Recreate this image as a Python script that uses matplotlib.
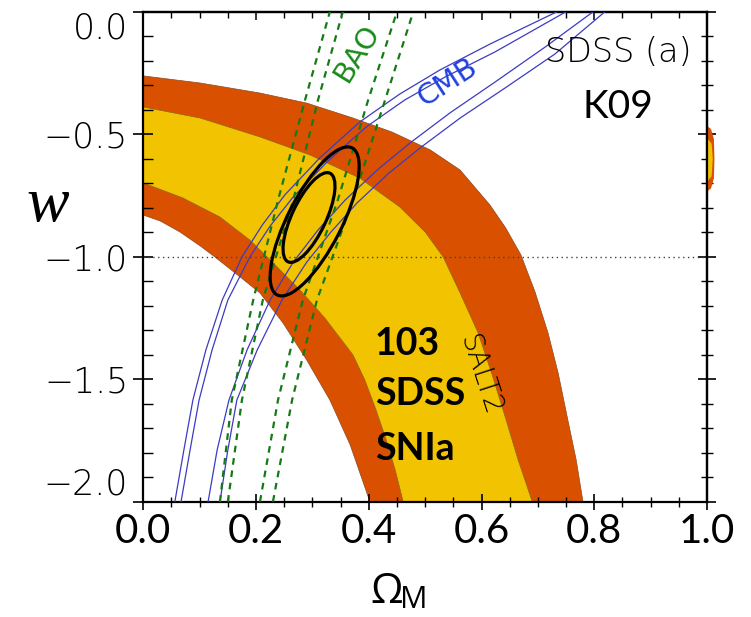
import matplotlib
matplotlib.use("Agg")
import matplotlib.pyplot as plt
from matplotlib.ticker import MultipleLocator
from matplotlib.patches import Ellipse
from matplotlib.transforms import ScaledTranslation

# SN Ia band edges (Omega_M, w)
sn2_upper_om = [0.0, 0.101, 0.207, 0.290, 0.372, 0.441, 0.509, 0.562, 0.615, 0.643, 0.670,
                0.695, 0.718, 0.736, 0.752, 0.768, 0.780]
sn2_upper_w = [-0.262, -0.291, -0.332, -0.373, -0.434, -0.491, -0.564, -0.646, -0.789, -0.883,
               -0.993, -1.144, -1.311, -1.475, -1.654, -1.830, -2.0]
sn2_lower_om = [0.0, 0.030, 0.065, 0.101, 0.127, 0.172, 0.207, 0.248, 0.290, 0.331, 0.367, 0.402]
sn2_lower_w = [-0.830, -0.854, -0.899, -0.956, -1.001, -1.083, -1.148, -1.271, -1.422, -1.585,
               -1.768, -2.0]
sn1_upper_om = [0.0, 0.101, 0.207, 0.296, 0.384, 0.455, 0.500, 0.532, 0.562, 0.594, 0.619,
                0.642, 0.665, 0.690]
sn1_upper_w = [-0.389, -0.434, -0.511, -0.585, -0.679, -0.797, -0.899, -1.001, -1.148, -1.311,
               -1.483, -1.654, -1.830, -2.0]
sn1_lower_om = [0.0, 0.070, 0.136, 0.189, 0.225, 0.278, 0.322, 0.372, 0.393, 0.413, 0.431,
                0.447, 0.461]
sn1_lower_w = [-0.699, -0.760, -0.838, -0.932, -1.013, -1.136, -1.250, -1.401, -1.503, -1.626,
               -1.748, -1.871, -2.0]

# piece of the band that wraps round past Omega_M = 1
wrap2_om = [1.0, 1.006, 1.011, 1.012, 1.011, 1.006, 1.0]
wrap2_w = [-0.47, -0.48, -0.52, -0.60, -0.68, -0.72, -0.73]
wrap1_om = [1.0, 1.007, 1.009, 1.007, 1.0]
wrap1_w = [-0.52, -0.54, -0.60, -0.67, -0.69]

# CMB contour lines
cmb1_om = [0.056, 0.072, 0.088, 0.111, 0.140, 0.175, 0.211, 0.251, 0.313, 0.384, 0.455, 0.526,
           0.615, 0.734]
cmb1_w = [-2.0, -1.789, -1.585, -1.381, -1.177, -1.001, -0.871, -0.748, -0.597, -0.450, -0.336,
          -0.238, -0.132, 0.0]
cmb2_om = [0.067, 0.083, 0.099, 0.122, 0.150, 0.189, 0.225, 0.266, 0.326, 0.395, 0.464, 0.535,
           0.624, 0.750]
cmb2_w = [-2.0, -1.789, -1.585, -1.381, -1.177, -1.001, -0.875, -0.756, -0.613, -0.471, -0.360,
          -0.267, -0.164, 0.0]
cmb3_om = [0.115, 0.131, 0.152, 0.184, 0.225, 0.266, 0.310, 0.358, 0.415, 0.473, 0.544, 0.624,
           0.713, 0.798]
cmb3_w = [-2.0, -1.789, -1.585, -1.381, -1.177, -1.022, -0.891, -0.769, -0.646, -0.536, -0.413,
          -0.287, -0.144, 0.0]
cmb4_om = [0.136, 0.150, 0.166, 0.202, 0.246, 0.290, 0.333, 0.379, 0.434, 0.491, 0.562, 0.642,
           0.730, 0.819]
cmb4_w = [-2.0, -1.789, -1.585, -1.381, -1.177, -1.022, -0.899, -0.781, -0.662, -0.556, -0.434,
          -0.311, -0.173, 0.0]

# BAO contour lines
bao_w = [-2.0, -1.585, -1.177, -0.769, -0.360, 0.0]
bao1_om = [0.136, 0.157, 0.195, 0.239, 0.287, 0.331]
bao2_om = [0.150, 0.175, 0.212, 0.266, 0.310, 0.354]
bao3_om = [0.207, 0.239, 0.283, 0.345, 0.399, 0.450]
bao4_om = [0.230, 0.264, 0.308, 0.372, 0.429, 0.479]

# combined constraint ellipses: centre (Omega_M, w), size in inches, tilt in degrees
ell_om = [0.304, 0.294]
ell_w = [-0.856, -0.840]
ell_major = [1.65, 0.98]
ell_minor = [0.54, 0.34]
ell_angle = [63.0, 64.7]

orange = "#d95100"
yellow = "#f2c300"

fig = plt.figure(figsize=(7.51, 6.17), dpi=100)
ax = fig.add_axes([0.1908, 0.1869, 0.7506, 0.7941])
ax.set_xlim(0, 1)
ax.set_ylim(-2, 0)

# 2-sigma band, then 1-sigma band on top
ax.fill(sn2_upper_om + sn2_lower_om[::-1], sn2_upper_w + sn2_lower_w[::-1],
        color=orange, ec="#8a4a20", lw=0.5, zorder=1)
ax.fill(sn1_upper_om + sn1_lower_om[::-1], sn1_upper_w + sn1_lower_w[::-1],
        color=yellow, ec="#8a6a20", lw=0.5, zorder=1.1)
ax.fill(wrap2_om, wrap2_w, color=orange, clip_on=False, zorder=1)
ax.fill(wrap1_om, wrap1_w, color=yellow, clip_on=False, zorder=1.1)

ax.axhline(-1.0, color="#444444", lw=1.0, ls=(0, (1, 2.5)), zorder=2)

for om, w in [(cmb1_om, cmb1_w), (cmb2_om, cmb2_w), (cmb3_om, cmb3_w), (cmb4_om, cmb4_w)]:
    ax.plot(om, w, color="#3b3bc4", lw=0.9, zorder=3)

for om in [bao1_om, bao2_om, bao3_om, bao4_om]:
    ax.plot(om, bao_w, color="#157a15", lw=1.6, ls=(0, (3, 2.6)), zorder=3)

for cx, cy, wd, ht, ang in zip(ell_om, ell_w, ell_major, ell_minor, ell_angle):
    tr = fig.dpi_scale_trans + ScaledTranslation(cx, cy, ax.transData)
    ax.add_patch(Ellipse((0, 0), wd, ht, angle=ang, transform=tr,
                         fill=False, ec="black", lw=2.3, zorder=4))

# labels inside the plot
ax.text(0.379, -0.170, "BAO", color="#1a8a1a", fontsize=21, rotation=58,
        ha="center", va="center", zorder=5)
ax.text(0.540, -0.290, "CMB", color="#1f3fe0", fontsize=21, rotation=33,
        ha="center", va="center", zorder=5)
ax.text(0.842, -0.165, "SDSS (a)", fontsize=24, ha="center", va="center",
        fontweight="light", zorder=5)
ax.text(0.842, -0.389, "K09", fontsize=28, family="Lato", ha="center",
        va="center", zorder=5)
for txt, y in zip(["103", "SDSS", "SNIa"], [-1.357, -1.561, -1.785]):
    ax.text(0.411, y, txt, fontsize=27, family="Lato", fontweight="bold",
            ha="left", va="center", zorder=5)
ax.text(0.597, -1.483, "SALT2", fontsize=20, rotation=-72, ha="center",
        va="center", fontweight="light", zorder=5)

# axes frame and ticks
for s in ax.spines.values():
    s.set_linewidth(1.6)
ax.xaxis.set_minor_locator(MultipleLocator(0.05))
ax.yaxis.set_minor_locator(MultipleLocator(0.1))
ax.tick_params(axis="x", which="major", direction="inout", length=11, width=1.2, pad=3)
ax.tick_params(axis="x", which="minor", direction="inout", length=7, width=1.0)
ax.tick_params(axis="y", which="major", direction="inout", length=14, width=1.2, pad=4)
ax.tick_params(axis="y", which="minor", direction="in", length=7, width=1.0)
ax.set_xticks([0, 0.2, 0.4, 0.6, 0.8, 1.0])
ax.set_xticklabels(["0.0", "0.2", "0.4", "0.6", "0.8", "1.0"], family="Lato", fontsize=29)
ax.set_yticks([0, -0.5, -1.0, -1.5, -2.0])
ax.set_yticklabels(["0.0", "\u22120.5", "\u22121.0", "\u22121.5", "\u22122.0"],
                   fontsize=25, fontweight="light")
ylabs = ax.get_yticklabels()
ylabs[0].set_va("top")
ylabs[-1].set_va("bottom")

top = ax.secondary_xaxis("top")
top.xaxis.set_major_locator(MultipleLocator(0.2))
top.xaxis.set_minor_locator(MultipleLocator(0.05))
top.tick_params(which="major", direction="in", length=5.8, width=1.1, labeltop=False)
top.tick_params(which="minor", direction="in", length=4.3, width=1.0)
top.spines["top"].set_linewidth(1.6)

right = ax.secondary_yaxis("right")
right.yaxis.set_major_locator(MultipleLocator(0.5))
right.yaxis.set_minor_locator(MultipleLocator(0.1))
right.tick_params(which="major", direction="inout", length=13, width=1.2, labelright=False)
right.tick_params(which="minor", direction="inout", length=8.6, width=1.0)
right.spines["right"].set_linewidth(1.6)

# axis titles
fig.text(48 / 751, 1 - 206 / 617, "w", family="Liberation Serif", style="italic",
         fontsize=46, ha="center", va="center")
fig.text(370 / 751, 1 - 603 / 617, "\u03a9", family="Open Sans", fontsize=30,
         ha="left", va="baseline")
fig.text(400 / 751, 2 / 617, "M", family="Open Sans", fontsize=22,
         ha="left", va="bottom")

fig.savefig("out.png", dpi=100)
